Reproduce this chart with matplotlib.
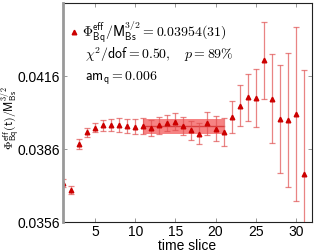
import numpy as np
import matplotlib
matplotlib.use("Agg")
from matplotlib import pyplot as plt

plt.rcParams['font.family'] = ['Liberation Sans', 'DejaVu Sans']
plt.rcParams['mathtext.fontset'] = 'cm'

# effective Phi data per time slice
t_slice = [1, 2, 3, 4, 5, 6, 7, 8, 9, 10, 11, 12, 13, 14, 15, 16,
           17, 18, 19, 20, 21, 22, 23, 24, 25, 26, 27, 28, 29, 30, 31]
phi_eff = [0.03720, 0.03692, 0.03881, 0.03929, 0.03948, 0.03957, 0.03960,
           0.03960, 0.03956, 0.03952, 0.03955, 0.03946, 0.03957, 0.03966,
           0.03972, 0.03955, 0.03937, 0.03923, 0.03966, 0.03943, 0.03929,
           0.03990, 0.04038, 0.04072, 0.04068, 0.04224, 0.04067, 0.03984,
           0.03979, 0.04004, 0.03756]
phi_err = [0.00016, 0.00016, 0.00019, 0.00019, 0.00020, 0.00023, 0.00025,
           0.00029, 0.00029, 0.00030, 0.00032, 0.00032, 0.00034, 0.00034,
           0.00035, 0.00038, 0.00038, 0.00042, 0.00047, 0.00051, 0.00058,
           0.00066, 0.00084, 0.00097, 0.00119, 0.00157, 0.00184, 0.00221,
           0.00274, 0.00356, 0.00429]

# fit result
fit_range = [11, 21]
fit_val = 0.03954
fit_err = 0.00031

yticks = [0.0356, 0.0386, 0.0416]
xticks = [5, 10, 15, 20, 25, 30]

fig = plt.figure(figsize=(3.15, 2.52), dpi=100)
ax = fig.add_axes([0.2, 0.119, 0.79, 0.869])

# fit band
ax.fill_between(fit_range, fit_val - fit_err, fit_val + fit_err,
                color='#f03030', alpha=0.6, linewidth=0, zorder=1)
ax.plot(fit_range, [fit_val, fit_val], color='#c81010', lw=1.0, alpha=0.6, zorder=2)

# data
ax.errorbar(t_slice, phi_eff, yerr=phi_err, fmt='none', ecolor='#e05050',
            elinewidth=0.9, capsize=2.5, capthick=0.9, alpha=0.7, zorder=3)
ax.plot(t_slice, phi_eff, '^', color='#cc0000', markersize=3.3, zorder=4,
        label=r'$\mathsf{\Phi^{eff}_{Bq}/M^{3/2}_{Bs}}=0.03954(31)$')

ax.set_xlim(1, 32)
ax.set_ylim(0.0356, 0.0446)
ax.set_xticks(xticks)
ax.set_yticks(yticks)
ax.set_yticklabels([f'{v:.4f}' for v in yticks])
ax.tick_params(direction='in', length=3, width=0.6, color='#888888',
               top=True, right=True, labelsize=10, pad=2)

ax.spines['left'].set_color('#999999')
ax.spines['left'].set_linewidth(2.0)
ax.spines['left'].set_zorder(5)
for s in ['bottom', 'top', 'right']:
    ax.spines[s].set_color('#222222')
    ax.spines[s].set_linewidth(0.8)

ax.set_xlabel('time slice', fontsize=10, labelpad=0)
fig.text(10.5 / 315, 0.53, r'$\mathsf{\Phi^{eff}_{Bq}(t)/M^{3/2}_{Bs}}$', fontsize=8.5,
         rotation=90, ha='center', va='center')

ax.legend(loc='upper left', bbox_to_anchor=(0.0, 0.955), frameon=False,
          fontsize=10, handlelength=0.6, handletextpad=0.3, borderaxespad=0.3,
          borderpad=0.2)
ax.text(0.09, 0.745, r'$\chi^2/\mathsf{dof}=0.50,\quad p=89\%$',
        transform=ax.transAxes, fontsize=10)
ax.text(0.09, 0.645, r'$\mathsf{am_q}=0.006$', transform=ax.transAxes, fontsize=10)

fig.savefig('out.png', dpi=100)
